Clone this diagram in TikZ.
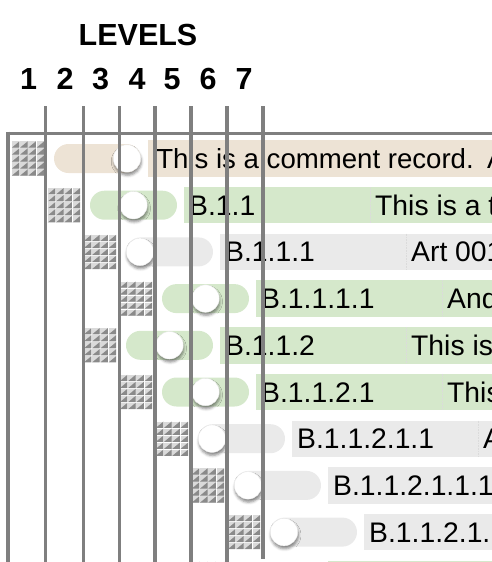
\documentclass[tikz,border=0pt]{standalone}
\usepackage{fontspec}
\setmainfont{Liberation Sans}
\usetikzlibrary{shadows.blur}
\definecolor{tanbar}{HTML}{EDE3D5}
\definecolor{greenbar}{HTML}{D5E8CB}
\definecolor{graybar}{HTML}{EAEAEA}
\definecolor{rulegray}{HTML}{7F7F7F}
\definecolor{studlight}{HTML}{DADADA}
\definecolor{studdark}{HTML}{8A8A8A}
\tikzset{
  levelrule/.style={draw=rulegray, line width=3.6pt},
  knob/.style={circle, fill=white, draw=black!8, line width=0.4pt, minimum size=27.5pt, inner sep=0pt,
    blur shadow={shadow xshift=0.6pt, shadow yshift=-3pt, shadow blur radius=2.6pt, shadow opacity=45}},
  rowtext/.style={anchor=base west, inner sep=0pt, font=\fontsize{28.3}{30}\selectfont},
  headtext/.style={inner sep=0pt, anchor=base, font=\fontsize{30.5}{32}\selectfont\bfseries},
  divline/.style={draw=black!14, line width=0.6pt, densely dotted},
}
% #1 row, #2 level, #3 colour, #4 knob position (0,1,2), #5 first text, #6 second text, #7 divider (1/0)
\newcommand\recrow[7]{%
  \pgfmathsetmacro{\yc}{158.5+46.7*(#1-1)}%
  \pgfmathsetmacro{\dx}{36*(#2-1)}%
  \pgfmathsetmacro{\bx}{148+\dx}%
  \pgfmathsetmacro{\pl}{54+\dx}%
  \pgfmathsetmacro{\pr}{141+\dx}%
  \pgfmathsetmacro{\px}{11.5+\dx}%
  % bar
  \fill[#3] (\bx,\yc-18.2) rectangle (500,\yc+18.2);
  \ifnum#7=1
    \draw[divline] (\bx+186,\yc-18.2) -- (\bx+186,\yc+18.2);
  \fi
  % pill
  \fill[#3, rounded corners=14.5pt] (\pl,\yc-14.5) rectangle (\pr,\yc+14.5);
  % pattern
  \foreach \i in {0,...,3}{
    \foreach \j in {0,...,4}{
      \pgfmathsetmacro{\cx}{\px+8.25*\i}
      \pgfmathsetmacro{\cy}{\yc-17.5+7*\j}
      \fill[studlight] (\cx+0.4,\cy+0.4) rectangle (\cx+7.85,\cy+6.6);
      \fill[studdark] (\cx+7.85,\cy+0.4) -- (\cx+7.85,\cy+6.6) -- (\cx+0.4,\cy+6.6) -- cycle;
    }
  }
  % knob
  \ifcase#4
    \pgfmathsetmacro{\kx}{\pl+14}%
  \or
    \pgfmathsetmacro{\kx}{(\pl+\pr)/2}%
  \else
    \pgfmathsetmacro{\kx}{\pr-14}%
  \fi
  \node[knob] (knob#1) at (\kx,\yc) {};
  % texts
  \node[rowtext] (ta#1) at (\bx+5,\yc+10) {#5};
  \node[rowtext] (tb#1) at (\bx+191,\yc+10) {#6};
}
\begin{document}
\begin{tikzpicture}[x=1pt,y=-1pt]
\useasboundingbox (0,0) rectangle (492,562);
\clip (0,0) rectangle (492,562);
% header
\node[headtext] (levels) at (138,45) {LEVELS};
\node[headtext] (n1) at (28.5,89) {1};
\node[headtext] (n2) at (65,89) {2};
\node[headtext] (n3) at (100.5,89) {3};
\node[headtext] (n4) at (137,89) {4};
\node[headtext] (n5) at (172,89) {5};
\node[headtext] (n6) at (208,89) {6};
\node[headtext] (n7) at (244,89) {7};
% records
\recrow{1}{1}{tanbar}{2}{\hspace{3.1pt}\fontsize{27.6}{30}\selectfont This is a comment record.\hspace{13.4pt}A}{}{0}
\recrow{2}{2}{greenbar}{1}{B.1.1}{This is a t}{1}
\recrow{3}{3}{graybar}{0}{B.1.1.1}{Art 001}{1}
\recrow{4}{4}{greenbar}{1}{B.1.1.1.1}{And}{1}
\recrow{5}{3}{greenbar}{1}{B.1.1.2}{This is}{1}
\recrow{6}{4}{greenbar}{1}{B.1.1.2.1}{This}{1}
\recrow{7}{5}{graybar}{0}{B.1.1.2.1.1}{A}{1}
\recrow{8}{6}{graybar}{0}{B.1.1.2.1.1.1}{}{0}
\recrow{9}{7}{graybar}{0}{B.1.1.2.1.}{}{0}
\recrow{10}{6}{greenbar}{0}{}{}{0}
% frame and level rules
\draw[levelrule] (6.2,133.5) -- (500,133.5);
\draw[levelrule] (8,131.7) -- (8,570);
\foreach \lx in {45.5,83.5,119.5,155,191,227}{
  \draw[levelrule] (\lx,106) -- (\lx,570);
}
\draw[levelrule] (263,106) -- (263,559);
\end{tikzpicture}
\end{document}
